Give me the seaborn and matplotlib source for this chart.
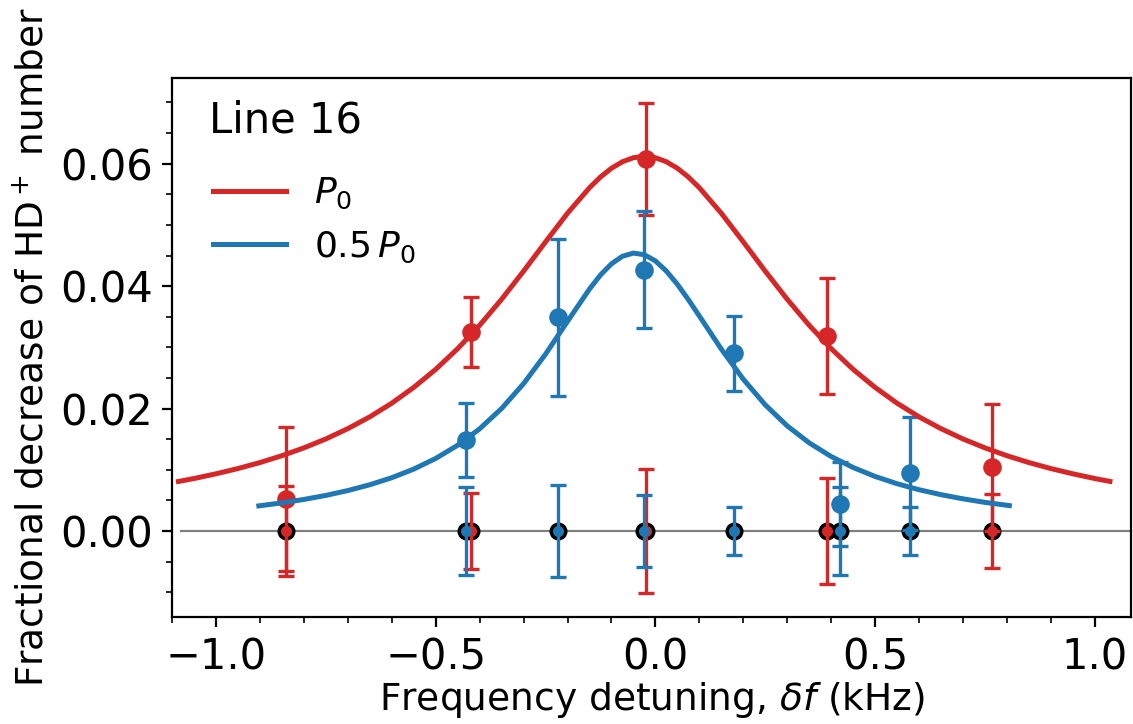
import matplotlib
matplotlib.use("Agg")
import matplotlib.pyplot as plt
from matplotlib.ticker import AutoMinorLocator, MultipleLocator
import seaborn as sns

RED = "#d62728"
BLUE = "#1f77b4"

# measured points, full power P0
red_x = [-0.842, -0.419, -0.021, 0.391, 0.766]
red_y = [0.0052, 0.0325, 0.0608, 0.0318, 0.0104]
red_err = [0.0118, 0.0057, 0.0091, 0.0095, 0.0104]
red_zero_err = [0.0074, 0.0062, 0.0102, 0.0087, 0.0060]

# measured points, half power 0.5 P0
blue_x = [-0.432, -0.221, -0.027, 0.180, 0.421, 0.579]
blue_y = [0.0149, 0.0349, 0.0427, 0.0290, 0.0044, 0.0094]
blue_err = [0.0060, 0.0128, 0.0095, 0.0062, 0.0069, 0.0093]
blue_zero_err = [0.0072, 0.0075, 0.0058, 0.0039, 0.0072, 0.0040]

# fitted line shapes
red_fit_x = [-1.086, -1.05, -1.0, -0.95, -0.9, -0.85, -0.8, -0.75, -0.7, -0.65, -0.6,
             -0.55, -0.5, -0.45, -0.4, -0.35, -0.3, -0.25, -0.2, -0.15, -0.125, -0.1,
             -0.075, -0.05, -0.025, 0.0, 0.025, 0.05, 0.075, 0.1, 0.15, 0.2, 0.25, 0.3,
             0.35, 0.4, 0.45, 0.5, 0.55, 0.6, 0.65, 0.7, 0.75, 0.8, 0.85, 0.9, 0.95,
             1.0, 1.035]
red_fit_y = [0.00809, 0.00858, 0.00935, 0.01021, 0.01119, 0.01231, 0.01359, 0.01505,
             0.01673, 0.01866, 0.02089, 0.02347, 0.02642, 0.02980, 0.03362, 0.03787,
             0.04246, 0.04724, 0.05192, 0.05608, 0.05783, 0.05926, 0.06032, 0.06098,
             0.06120, 0.06098, 0.06032, 0.05926, 0.05783, 0.05608, 0.05192, 0.04724,
             0.04246, 0.03787, 0.03362, 0.02980, 0.02642, 0.02347, 0.02089, 0.01866,
             0.01673, 0.01505, 0.01359, 0.01231, 0.01119, 0.01021, 0.00935, 0.00858,
             0.00810]
blue_fit_x = [-0.903, -0.85, -0.8, -0.75, -0.7, -0.65, -0.6, -0.55, -0.5, -0.45, -0.4,
              -0.35, -0.3, -0.25, -0.2, -0.15, -0.125, -0.1, -0.075, -0.05, -0.025,
              0.0, 0.025, 0.05, 0.075, 0.1, 0.15, 0.2, 0.25, 0.3, 0.35, 0.4, 0.45, 0.5,
              0.55, 0.6, 0.65, 0.7, 0.75, 0.806]
blue_fit_y = [0.00410, 0.00460, 0.00516, 0.00582, 0.00661, 0.00756, 0.00871, 0.01012,
              0.01186, 0.01402, 0.01670, 0.02002, 0.02408, 0.02890, 0.03426, 0.03953,
              0.04182, 0.04365, 0.04488, 0.04540, 0.04513, 0.04412, 0.04246, 0.04030,
              0.03781, 0.03513, 0.02973, 0.02481, 0.02062, 0.01718, 0.01441, 0.01218,
              0.01038, 0.00892, 0.00773, 0.00675, 0.00594, 0.00526, 0.00468, 0.00415]


def main():
    plt.rcParams["font.family"] = ["DejaVu Sans"]
    plt.rcParams["mathtext.fontset"] = "dejavusans"

    fig = plt.figure(figsize=(1133 / 200, 724 / 200), dpi=200)
    ax = fig.add_axes([172.3 / 1133, 1 - 616.7 / 724, (1131 - 172.3) / 1133, (616.7 - 78) / 724])

    ax.axhline(0, color="grey", lw=0.8, xmin=0.009, zorder=1)

    # black background markers for the off-resonance (zero) measurements
    zero_x = red_x + blue_x
    sns.scatterplot(x=zero_x, y=[0.0] * len(zero_x), color="black", s=42,
                    linewidth=0, ax=ax, zorder=2, legend=False)

    ebkw = dict(fmt="o", capsize=3, elinewidth=1.2, capthick=1.2)
    ax.errorbar(red_x, [0.0] * len(red_x), yerr=red_zero_err, color=RED, ms=3, zorder=3, **ebkw)
    ax.errorbar(red_x, red_y, yerr=red_err, color=RED, ms=5.7, zorder=3, **ebkw)
    ax.errorbar(blue_x, [0.0] * len(blue_x), yerr=blue_zero_err, color=BLUE, ms=3, zorder=4, **ebkw)
    ax.errorbar(blue_x, blue_y, yerr=blue_err, color=BLUE, ms=5.7, zorder=4, **ebkw)

    sns.lineplot(x=red_fit_x, y=red_fit_y, sort=False, estimator=None, color=RED,
                 lw=1.8, label=r"$P_0$", ax=ax, zorder=5)
    sns.lineplot(x=blue_fit_x, y=blue_fit_y, sort=False, estimator=None, color=BLUE,
                 lw=1.8, label=r"$0.5\,P_0$", ax=ax, zorder=5)

    ax.set_xlim(-1.1, 1.083)
    ax.set_ylim(-0.014, 0.074)
    ax.xaxis.set_major_locator(MultipleLocator(0.5))
    ax.xaxis.set_minor_locator(AutoMinorLocator(5))
    ax.yaxis.set_major_locator(MultipleLocator(0.02))
    ax.yaxis.set_minor_locator(AutoMinorLocator(4))
    ax.tick_params(labelsize=15)

    ax.set_xlabel(r"Frequency detuning, $\delta f$ (kHz)", fontsize=13.5, labelpad=0.5)
    ax.set_ylabel(r"Fractional decrease of HD$^+$ number", fontsize=13.5, labelpad=3)

    ax.text(0.0379, 0.8985, "Line 16", transform=ax.transAxes, fontsize=15,
            ha="left", va="baseline")
    ax.legend(loc="upper left", bbox_to_anchor=(0.0277, 0.845), borderaxespad=0,
              frameon=False, fontsize=13)

    fig.savefig("out.png", dpi=200)


if __name__ == "__main__":
    main()
